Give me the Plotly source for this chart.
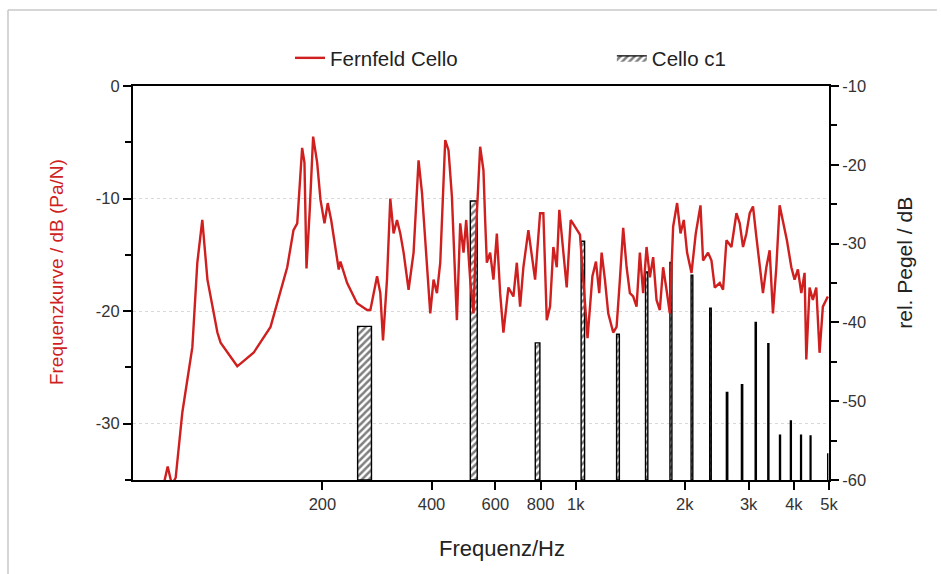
import plotly.graph_objects as go

# ---------------- data ----------------
curve_freq = [72.8, 74.8, 76.8, 78.7, 82.1, 87.5, 90.3, 93.2, 96.3, 102.6, 104.7, 116.4, 129.1,
              143.8, 159.9, 166.4, 170.4, 175.8, 178.4, 180.7, 184.5, 188.5, 193.4, 197.5, 202.6,
              206.8, 211.4, 221.8, 224.2, 234.0, 249.2, 265.6,
              271.2, 283.0, 288.9, 293.9, 301.4, 307.8, 314.3, 321.2, 328.0, 335.0, 345.7, 356.9,
              368.4, 376.5, 384.4, 396.8, 405.2, 414.0, 422.8, 436.4, 445.6, 455.3, 465.0, 470.0,
              480.0, 490.2, 498.6, 511.4, 522.2, 533.6, 544.9, 556.4, 562.4, 568.5, 580.5, 592.8,
              605.8, 618.6, 631.6, 652.0, 673.0, 687.8, 702.3, 717.1, 740.2, 756.4, 772.5, 797.4,
              814.1, 831.9, 849.5, 867.5, 886.5, 901.1, 924.2, 944.4, 968.6, 995.5, 1027.4, 1049.2,
              1078.0, 1112.0, 1137.2, 1161.2, 1179.0, 1204.0, 1229.5, 1269.1, 1296.6, 1324.1,
              1352.2, 1381.7, 1411.0, 1440.9, 1472.1, 1503.2, 1535.1, 1568.7, 1601.9, 1635.8,
              1671.2, 1706.6, 1742.7, 1780.9, 1818.6, 1857.1, 1904.7, 1946.4, 1987.1, 2029.2,
              2087.0, 2144.6, 2209.8, 2246.2, 2318.8, 2369.4, 2419.4, 2497.6, 2550.4, 2606.2,
              2690.2, 2776.8, 2835.6, 2895.6, 2958.2, 3021.0, 3085.0, 3151.8, 3218.2, 3286.4,
              3358.2, 3429.4, 3502.0, 3577.8, 3653.6, 3747.4, 3826.6, 3935.8, 4018.2, 4103.4,
              4193.2, 4282.0, 4328.6, 4420.0, 4513.0, 4611.8, 4709.4, 4809.0, 4964.4]
curve_db = [-35.5, -33.8, -35.4, -34.8, -29.0, -23.2, -15.7, -11.9, -17.2, -21.9, -22.8, -24.9, -23.7,
            -21.4, -16.1, -12.8, -12.2, -5.5, -6.8, -16.2, -11.0, -4.5, -6.8, -10.1, -12.2,
            -10.4, -11.9, -16.3, -15.6, -17.5, -19.3, -19.9,
            -19.9, -16.9, -18.4, -22.6, -17.2, -10.0, -13.1, -11.9, -13.1, -14.8, -18.1, -14.8,
            -6.6, -9.5, -13.7, -20.2, -17.2, -18.4, -15.7, -4.8, -5.7, -9.8, -17.2, -20.8,
            -12.2, -14.8, -11.9, -17.2, -20.2, -11.3, -5.4, -7.5, -11.9, -15.7, -14.8, -17.2,
            -13.1, -18.4, -21.9, -17.9, -18.7, -15.7, -19.6, -16.1, -12.8, -14.8, -17.2, -11.3,
            -11.3, -20.8, -19.6, -14.3, -16.1, -11.0, -14.8, -17.9, -11.9, -12.5, -13.2, -17.2,
            -22.4, -16.9, -15.6, -18.4, -14.8, -17.2, -20.2, -21.9, -21.4, -17.2,
            -12.6, -16.1, -18.4, -18.7, -19.6, -14.8, -18.4, -14.3, -17.0, -15.2,
            -19.0, -19.9, -16.1, -18.1, -20.2, -12.5, -10.4, -13.1, -11.9, -14.8,
            -16.6, -13.1, -10.6, -15.5, -14.8, -15.5, -17.9, -17.5, -18.1, -13.7,
            -14.3, -11.3, -12.2, -14.3, -13.1, -11.3, -10.7, -13.4, -16.1, -18.4,
            -16.1, -14.6, -20.2, -16.1, -10.6, -12.2, -13.7, -16.1, -17.2, -16.3,
            -18.4, -16.6, -24.3, -17.9, -19.0, -17.9, -23.7, -19.6, -18.7]

# harmonics of c1 (Hz) and their relative level (dB)
harm_freq = [261.6, 523.3, 784.9, 1046.5, 1308.1, 1569.8, 1831.4, 2093.0, 2354.6, 2616.3,
             2877.9, 3139.5, 3401.1, 3662.8, 3924.4, 4186.0, 4447.6, 4970.3]
harm_level = [-40.5, -24.6, -42.6, -29.7, -41.5, -33.6, -32.4, -34.0, -38.2, -48.9,
              -47.9, -40.0, -42.7, -54.3, -52.5, -54.3, -54.4, -56.6]

x_tick_vals = [200, 400, 600, 800, 1000, 2000, 3000, 4000, 5000]
x_tick_text = ["200", "400", "600", "800", "1k", "2k", "3k", "4k", "5k"]
left_tick_vals = [0, -10, -20, -30]
left_tick_text = ["0", "-10", "-20", "-30"]
right_tick_vals = [-10, -20, -30, -40, -50, -60]
right_tick_text = ["-10", "-20", "-30", "-40", "-50", "-60"]

x_title = "Frequenz/Hz"
left_title = "Frequenzkurve / dB (Pa/N)"
right_title = "rel. Pegel / dB"

# ---------------- styling ----------------
BAR_WIDTH_HZ = 23.0
BAR_BASE = -60
FONT = "Liberation Sans, Arial, sans-serif"
RED = "#cf1f1f"

bx, by = [], []
for f, v in zip(harm_freq, harm_level):
    x0, x1 = f - BAR_WIDTH_HZ / 2, f + BAR_WIDTH_HZ / 2
    bx += [x0, x0, x1, x1, x0, None]
    by += [BAR_BASE, v, v, BAR_BASE, BAR_BASE, None]

fig = go.Figure()
fig.add_trace(go.Scatter(
    x=bx, y=by, mode="lines", fill="toself", name="Cello c1",
    line=dict(color="black", width=1.4),
    fillcolor="white",
    fillpattern=dict(shape="/", fgcolor="black", bgcolor="white", size=5, solidity=0.5),
    yaxis="y", legend="legend2", hoverinfo="skip"))
fig.add_trace(go.Scatter(
    x=curve_freq, y=curve_db, mode="lines", name="Fernfeld Cello",
    line=dict(color=RED, width=2.4),
    yaxis="y2", legend="legend"))

tickfont = dict(family=FONT, size=16.5, color="#333")
minor = dict(dtick=5, ticks="outside", ticklen=6, tickwidth=1.5, tickcolor="black")
legfont = dict(family=FONT, size=20.5, color="#222")
fig.update_layout(
    width=941, height=574,
    margin=dict(l=133, r=112, t=86, b=94),
    paper_bgcolor="white", plot_bgcolor="white",
    font=dict(family=FONT, size=14, color="#222"),
    showlegend=True,
    legend=dict(orientation="h", x=0.2256, y=1.071, xanchor="left", yanchor="middle",
                font=legfont, bgcolor="rgba(0,0,0,0)"),
    legend2=dict(orientation="h", x=0.688, y=1.071, xanchor="left", yanchor="middle",
                 font=legfont, bgcolor="rgba(0,0,0,0)"),
    xaxis=dict(type="log", range=[1.7782, 3.699], showline=True, linecolor="black",
               linewidth=2, mirror=True, ticks="outside", ticklen=8, tickwidth=1.5,
               tickcolor="black", tickvals=x_tick_vals, ticktext=x_tick_text,
               tickfont=tickfont, showgrid=False, zeroline=False, automargin=False),
    yaxis=dict(side="right", range=[-60, -10], tickvals=right_tick_vals, ticktext=right_tick_text,
               showline=True, linecolor="black",
               linewidth=2, ticks="outside", ticklen=8, tickwidth=1.5, tickcolor="black",
               minor=minor,
               tickfont=tickfont, showgrid=False, zeroline=False, automargin=False),
    yaxis2=dict(overlaying="y", side="left", range=[-35, 0], tickvals=left_tick_vals,
                ticktext=left_tick_text, showline=True,
                linecolor="black", linewidth=2, ticks="outside", ticklen=8, tickwidth=1.5,
                tickcolor="black",
                minor=minor,
                tickfont=tickfont, showgrid=True, gridcolor="#d9d9d9", griddash="dot",
                gridwidth=1, zeroline=False, automargin=False),
    annotations=[
        dict(text=x_title, xref="paper", yref="paper", x=0.530, y=-0.175,
             xanchor="center", yanchor="middle", showarrow=False,
             font=dict(family=FONT, size=22, color="#222")),
        dict(text=left_title, xref="paper", yref="paper", x=-0.109, y=0.528, textangle=-90,
             xanchor="center", yanchor="middle", showarrow=False,
             font=dict(family=FONT, size=19, color=RED)),
        dict(text=right_title, xref="paper", yref="paper", x=1.109, y=0.551, textangle=-90,
             xanchor="center", yanchor="middle", showarrow=False,
             font=dict(family=FONT, size=21, color="#222")),
    ],
    shapes=[dict(type="line", xref="paper", yref="paper", x0=-0.1796, x1=-0.1796, y0=-0.26, y1=1.193,
                 line=dict(color="#c8c8c8", width=1.5)),
            dict(type="line", xref="paper", yref="paper", x0=-0.1796, x1=1.155, y0=1.193, y1=1.193,
                 line=dict(color="#c8c8c8", width=1.5))],
)

fig.write_html("out.html")
